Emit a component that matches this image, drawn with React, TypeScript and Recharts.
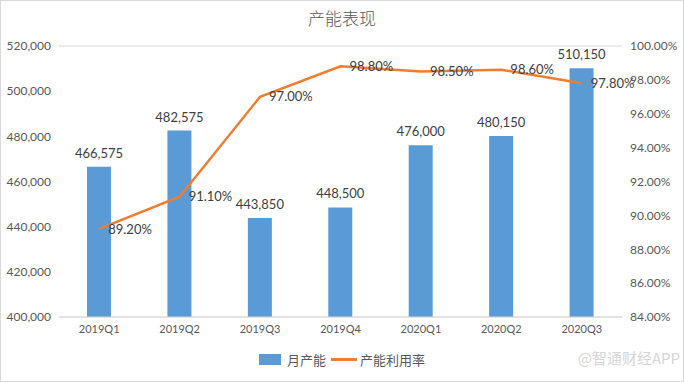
import React from 'react';
import {
  Bar,
  CartesianGrid,
  ComposedChart,
  LabelList,
  Legend,
  Line,
  XAxis,
  YAxis,
} from 'recharts';

const QUARTERS = ['2019Q1', '2019Q2', '2019Q3', '2019Q4', '2020Q1', '2020Q2', '2020Q3'];
const MONTHLY_CAPACITY = [466575, 482575, 443850, 448500, 476000, 480150, 510150];
const UTILIZATION = [89.2, 91.1, 97.0, 98.8, 98.5, 98.6, 97.8];
const LEFT_TICKS = [400000, 420000, 440000, 460000, 480000, 500000, 520000];
const RIGHT_TICKS = [84, 86, 88, 90, 92, 94, 96, 98, 100];

const data = QUARTERS.map((q, i) => ({
  quarter: q,
  capacity: MONTHLY_CAPACITY[i],
  rate: UTILIZATION[i],
}));

const FONT = 'Lato, "Noto Sans CJK SC", sans-serif';
const GRAY = '#595959';

const renderLegend = () => (
  <div
    style={{
      display: 'flex',
      justifyContent: 'center',
      alignItems: 'center',
      fontFamily: '"Noto Sans CJK SC", sans-serif',
      fontSize: 13,
      color: GRAY,
      paddingTop: 3,
    }}
  >
    <span style={{ display: 'inline-block', width: 22, height: 11, background: '#5B9BD5', marginRight: 6 }} />
    <span>月产能</span>
    <span style={{ display: 'inline-block', width: 26, height: 3, background: '#ED7D31', margin: '0 3px 0 5px' }} />
    <span>产能利用率</span>
  </div>
);

export default function App() {
  return (
    <div style={{ position: 'relative', width: 684, height: 382, background: '#fff' }}>
      <style>{'body{margin:0}'}</style>
      <div
        style={{
          position: 'absolute',
          inset: 0,
          border: '1px solid #d9d9d9',
          boxSizing: 'border-box',
          pointerEvents: 'none',
        }}
      />
      <div
        style={{
          position: 'absolute',
          top: 5,
          width: '100%',
          textAlign: 'center',
          fontFamily: '"Noto Sans CJK SC", sans-serif',
          fontSize: 17,
          fontWeight: 300,
          color: GRAY,
        }}
      >
        产能表现
      </div>
      <ComposedChart
        width={684}
        height={382}
        data={data}
        margin={{ top: 46, right: 0, bottom: 5, left: 0 }}
        barCategoryGap={0}
      >
        <CartesianGrid stroke="#d9d9d9" vertical={false} />
        <XAxis
          dataKey="quarter"
          height={30}
          tick={{ fontSize: 11, fill: GRAY, fontFamily: FONT }}
          axisLine={{ stroke: '#d9d9d9' }}
          tickLine={false}
        />
        <YAxis
          yAxisId="left"
          width={59}
          domain={[400000, 520000]}
          ticks={LEFT_TICKS}
          tickFormatter={(v: number) => v.toLocaleString('en-US')}
          tick={{ fontSize: 12, fill: GRAY, fontFamily: FONT }}
          axisLine={false}
          tickLine={false}
          allowDataOverflow
        />
        <YAxis
          yAxisId="right"
          orientation="right"
          width={62}
          domain={[84, 100]}
          ticks={RIGHT_TICKS}
          tickFormatter={(v: number) => `${v.toFixed(2)}%`}
          tick={{ fontSize: 12, fill: GRAY, fontFamily: FONT, textAnchor: 'start' }}
          axisLine={false}
          tickLine={false}
        />
        <Legend verticalAlign="bottom" height={30} content={renderLegend} />
        <Bar yAxisId="left" dataKey="capacity" fill="#5B9BD5" barSize={24} isAnimationActive={false}>
          <LabelList
            dataKey="capacity"
            position="top"
            offset={9}
            formatter={(v: number) => v.toLocaleString('en-US')}
            style={{ fontSize: 13, fill: '#404040', fontFamily: FONT }}
          />
        </Bar>
        <Line
          yAxisId="right"
          dataKey="rate"
          stroke="#ED7D31"
          strokeWidth={2.5}
          dot={false}
          type="linear"
          isAnimationActive={false}
        >
          <LabelList
            dataKey="rate"
            position="right"
            offset={9}
            formatter={(v: number) => `${v.toFixed(2)}%`}
            style={{ fontSize: 13, fill: '#404040', fontFamily: FONT }}
          />
        </Line>
      </ComposedChart>
      <div
        style={{
          position: 'absolute',
          right: 4,
          bottom: 14,
          fontFamily: '"Noto Sans CJK SC", sans-serif',
          fontSize: 15,
          color: '#d6d6d6',
        }}
      >
        @智通财经APP
      </div>
    </div>
  );
}
